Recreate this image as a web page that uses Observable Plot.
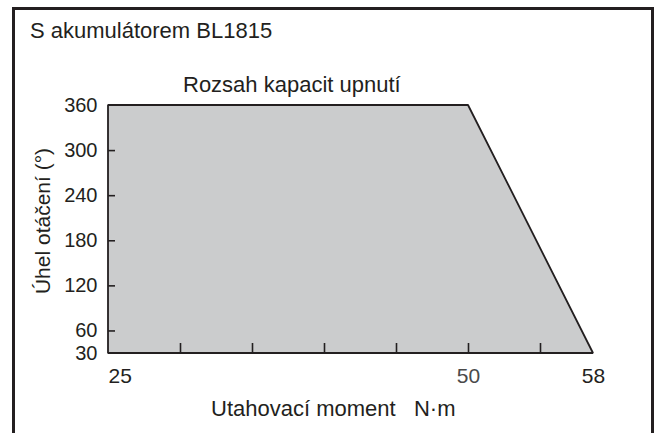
<!DOCTYPE html>
<html>
<head>
<meta charset="utf-8">
<script src="https://cdn.jsdelivr.net/npm/d3@7"></script>
<script src="https://cdn.jsdelivr.net/npm/@observablehq/plot@0.6"></script>
<style>
  html, body { margin: 0; padding: 0; background: #fff; }
  #wrap { position: relative; width: 658px; height: 433px; overflow: hidden;
          font-family: "Liberation Sans", Arial, sans-serif; color: #231f20; }
  #wrap svg { position: absolute; left: 0; top: 0; }
  .frame { position: absolute; left: 12px; top: 7px; width: 642px; height: 500px;
           border: 3px solid #231f20; box-sizing: border-box; }
  .t { position: absolute; font-size: 22px; white-space: pre; line-height: 1; }
</style>
</head>
<body>
<div id="wrap">
  <div class="frame"></div>
</div>
<script>
// Data
const torque = [25, 50, 58];          // Utahovací moment N·m
const angle  = [360, 360, 30];         // Úhel otáčení (°)
const xTicks = [30, 35, 40, 45, 50, 55];
const xLabels = [25, 50, 58];
const yTicks = [60, 120, 180, 240, 300];
const yLabels = [30, 60, 120, 180, 240, 300, 360];
const yDomain = [30, 360];
const xDomain = [25, 55, 58];

const title = "S akumulátorem BL1815";
const subtitle = "Rozsah kapacit upnutí";
const xTitle = "Utahovací moment   N·m";
const yTitle = "Úhel otáčení (°)";

const ink = "#231f20";
const rows = torque.map((x, i) => ({x, y: angle[i]}));

const chart = Plot.plot({
  width: 658,
  height: 433,
  marginLeft: 108,
  marginRight: 65,
  marginTop: 105,
  marginBottom: 80,
  style: {fontFamily: "Liberation Sans, Arial, sans-serif", fontSize: "21px", color: ink, background: "transparent", overflow: "visible"},
  x: {type: "linear", domain: xDomain, range: [108, 540, 593]},
  y: {domain: yDomain},
  marks: [
    Plot.areaY(rows, {x: "x", y1: yDomain[0], y2: "y", fill: "#cbcccd", stroke: ink, strokeWidth: 1.8, strokeLinejoin: "miter"}),
    Plot.ruleX(xTicks, {x: d => d, y1: yDomain[0], y2: yDomain[0], insetTop: -10, stroke: ink, strokeWidth: 1.6}),
    Plot.ruleY(yTicks, {y: d => d, x1: xDomain[0], x2: xDomain[0], insetRight: -7, stroke: ink, strokeWidth: 1.6}),
    Plot.axisY({ticks: yLabels, tickSize: 0, tickPadding: 11, label: null, fontSize: 20, fill: ink}),
    Plot.axisX({ticks: [], label: null, tickSize: 0}),
    Plot.text(xLabels.filter(d => d === xDomain[0]), {x: d => d, y: yDomain[0], dy: 23, textAnchor: "start", text: d => String(d), fontSize: 21, fill: ink}),
    Plot.text(xLabels.filter(d => d !== xDomain[0]), {x: d => d, y: yDomain[0], dy: 23, text: d => String(d), fontSize: 21, fill: d => d === 50 ? "#4a4a4a" : ink})
  ]
});
const wrap = document.getElementById("wrap");
wrap.appendChild(chart);

function addText(txt, css) {
  const d = document.createElement("div");
  d.className = "t";
  d.textContent = txt;
  Object.assign(d.style, css);
  wrap.appendChild(d);
  return d;
}
addText(title, {left: "30px", top: "20px"});
addText(subtitle, {left: "183px", top: "74px"});
addText(xTitle, {left: "211px", top: "398px"});
const yl = addText(yTitle, {left: "0px", top: "0px", transformOrigin: "0 0", fontSize: "21px"});
// rotate the y title: centered vertically around y=221
const w = yl.getBoundingClientRect().width;
yl.style.transform = `translate(32px, ${221 + w / 2}px) rotate(-90deg)`;
</script>
</body>
</html>
